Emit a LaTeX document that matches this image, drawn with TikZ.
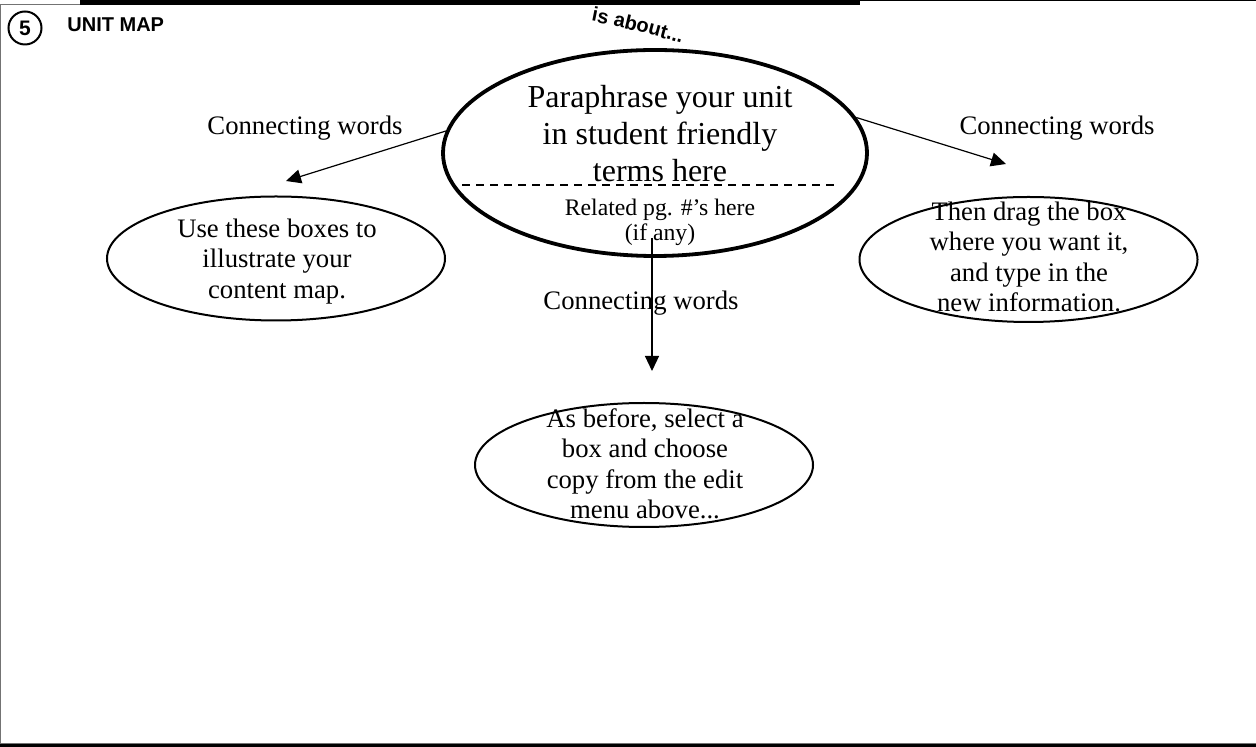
\documentclass[tikz,border=0pt]{standalone}
\usepackage{fontspec}
\setmainfont{Liberation Serif}
\setsansfont{Liberation Sans}
\usetikzlibrary{shapes.geometric,arrows.meta,decorations.text}
\begin{document}
\begin{tikzpicture}[x=0.5pt,y=-0.5pt,
  bubble/.style={ellipse,draw,line width=1pt,inner sep=0pt,minimum width=169pt,minimum height=62pt},
  mainbubble/.style={ellipse,draw,line width=1.9pt,inner sep=0pt,minimum width=212pt,minimum height=103pt},
  linktext/.style={font=\fontsize{13.35}{15}\selectfont,anchor=base,inner sep=0pt},
  boxtext/.style={font=\fontsize{13.35}{15.25}\selectfont,align=center,anchor=north,inner sep=0pt},
  conn/.style={line width=0.6pt,-{Triangle[length=7.5pt,width=7pt]}},
  sep/.style={line width=0.7pt,dash pattern=on 4pt off 3pt},
  head/.style={font=\sffamily\bfseries\fontsize{10}{12}\selectfont,inner sep=0pt},
]
\useasboundingbox (0,0) rectangle (1256,747);
% frame
\fill[black] (80,0) rectangle (860,5.3);
\draw[black!55,line width=0.6pt] (0,4.5) -- (80,4.5);
\draw[black,line width=0.5pt] (860,1) -- (1256,1);
\draw[black!55,line width=0.6pt] (0.8,4.5) -- (0.8,743.5);
\draw[black!55,line width=0.6pt] (0,743.5) -- (1256,743.5);
\draw[black,line width=1.4pt] (0,745.6) -- (1256,745.6);

% header
\node[head,circle,draw,line width=1pt,minimum size=16.5pt,font=\sffamily\bfseries\fontsize{10.5}{12}\selectfont] (num) at (25,28) {5};
\node[head,anchor=base west] (title) at (67,32) {UNIT MAP};
\path[decorate,decoration={text along path,text={|\sffamily\bfseries\fontsize{10}{12}\selectfont|is about...}}]
  (591,21) .. controls (622,27) and (657,36) .. (690,46);

% bubbles
\node[mainbubble] (main) at (655,153) {};
\node[bubble] (left) at (276,258.5) {};
\node[bubble,minimum height=62.5pt] (right) at (1028.5,259.5) {};
\node[bubble] (bottom) at (644,465) {};

% bubble texts
\node[font=\fontsize{16}{18.5}\selectfont,align=center,anchor=north,inner sep=0pt] (maintext) at (660,81.1)
  {\strut Paraphrase your unit\\in student friendly\\terms here};
\node[font=\fontsize{11.85}{12.5}\selectfont,align=center,anchor=north,inner sep=0pt] (pages) at (660,197.5)
  {\strut Related pg. \#’s here\\(if any)};
\node[boxtext] (lefttext) at (277,215.6) {\strut Use these boxes to\\illustrate your\\content map.};
\node[boxtext] (righttext) at (1029,198.6) {\strut Then drag the box\\where you want it,\\and type in the\\new information.};
\node[boxtext] (bottomtext) at (645,405.6) {\strut As before, select a\\box and choose\\copy from the edit\\menu above...};

% separator in main bubble
\coordinate (dl) at (462,185);
\coordinate (dr) at (838,185);
\draw[sep] (dl) -- (dr);

% connecting words
\node[linktext] (cwleft) at (305,135) {Connecting words};
\node[linktext] (cwright) at (1057,135) {Connecting words};
\node[linktext] (cwdown) at (641,310) {Connecting words};

% connectors
\coordinate (la) at (286,181);
\coordinate (ra) at (1006,164);
\coordinate (ds) at (652,238);
\coordinate (da) at (652,371);
\draw[conn] (main.174) -- (la);
\draw[conn] (main.10) -- (ra);
\draw[conn] (ds) -- (da);
\end{tikzpicture}
\end{document}
